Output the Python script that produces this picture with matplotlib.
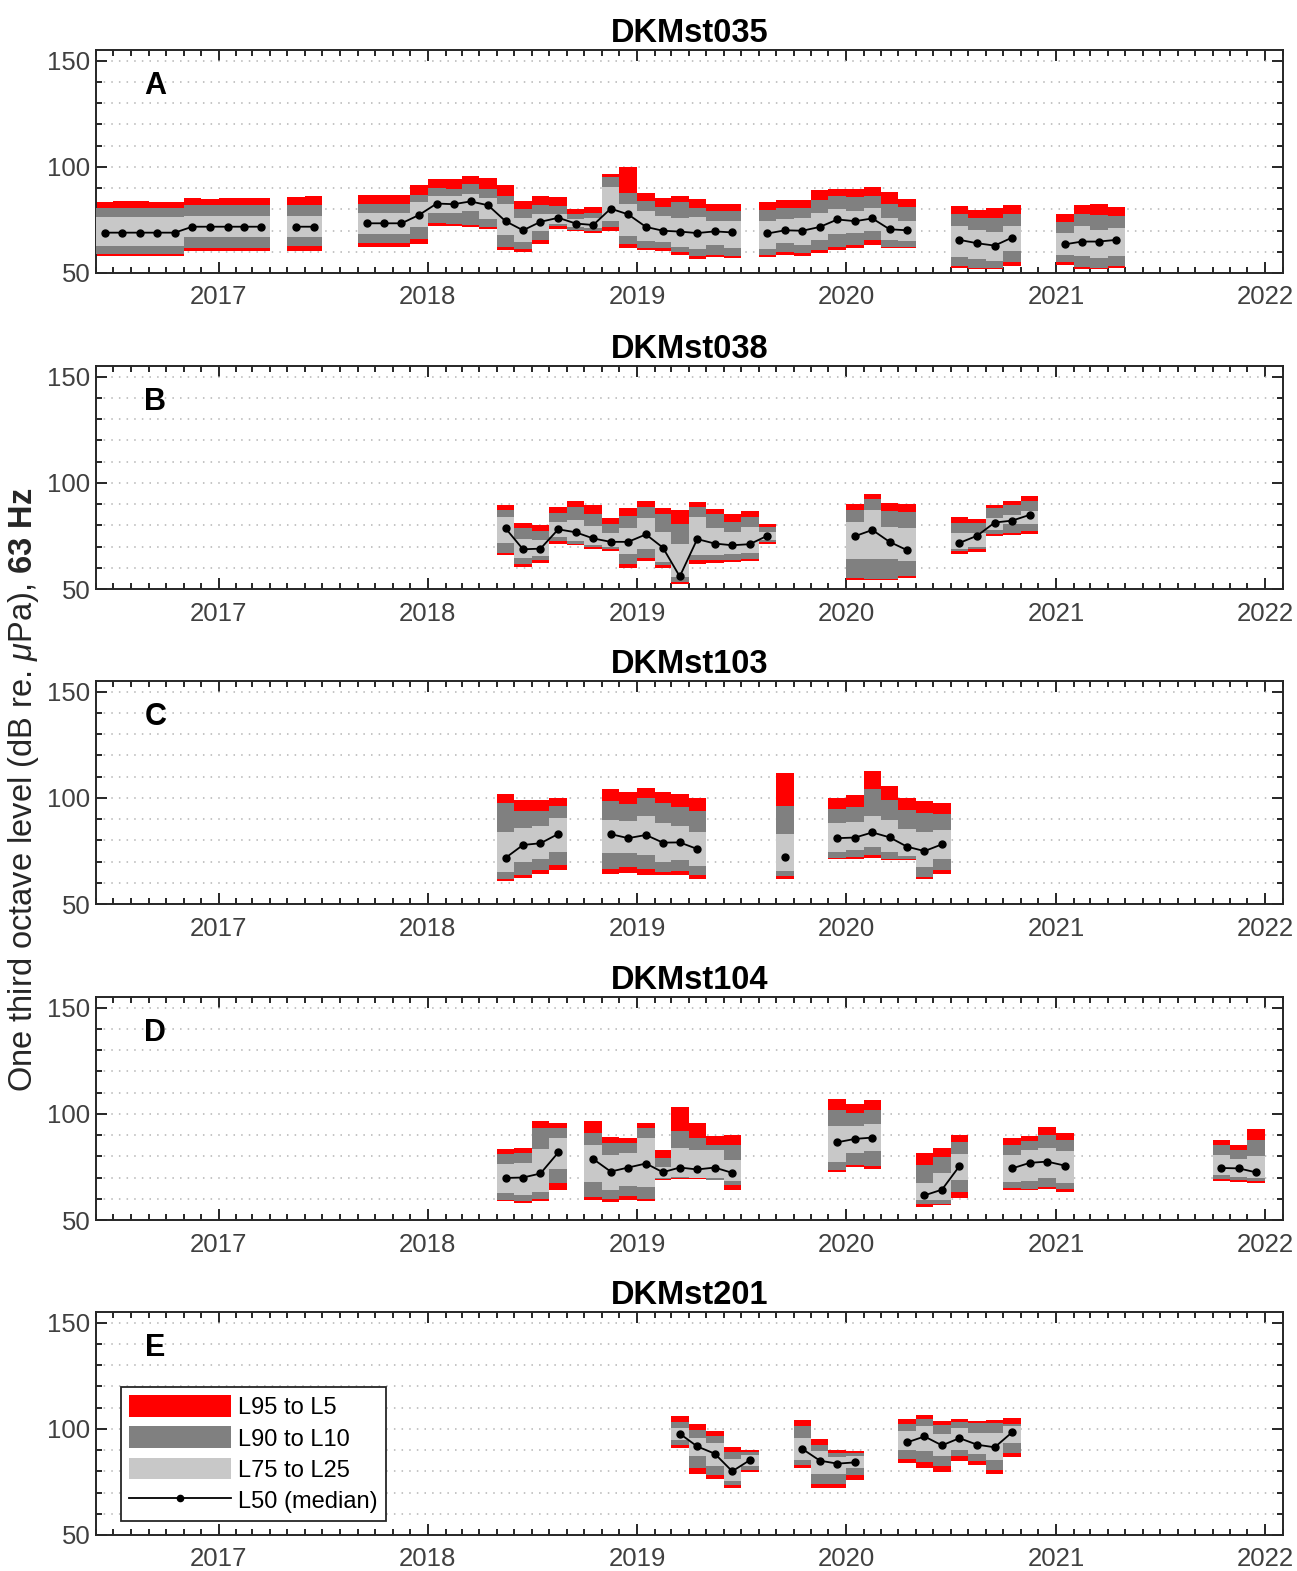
import numpy as np
import pandas as pd
import matplotlib
matplotlib.use("Agg")
import matplotlib.pyplot as plt
import matplotlib.dates as mdates
from matplotlib.patches import Patch
from matplotlib.lines import Line2D
from matplotlib.ticker import MultipleLocator, FixedLocator

plt.rcParams['font.family'] = ['Liberation Sans', 'DejaVu Sans']
plt.rcParams['mathtext.fontset'] = 'custom'
plt.rcParams['mathtext.rm'] = 'Liberation Sans'
plt.rcParams['mathtext.it'] = 'Liberation Sans:italic'
plt.rcParams['mathtext.bf'] = 'Liberation Sans:bold'

# ---------------- data ----------------
stations = ["DKMst035", "DKMst038", "DKMst103", "DKMst104", "DKMst201"]
panel_letters = ["A", "B", "C", "D", "E"]

# --- DKMst035 ---
seg_035 = [("2016-06", "2017-03"), ("2017-05", "2017-06"), ("2017-09", "2019-06"),
           ("2019-08", "2020-04"), ("2020-07", "2020-10"), ("2021-01", "2021-04")]
L5_035 = [83.4, 84.0, 84.0, 83.5, 83.2, 85.3, 85.0, 85.2, 85.4, 85.4,
          86.0, 86.2,
          86.7, 86.7, 86.7, 91.5,
          94.4, 94.4, 95.5, 94.9, 91.2, 83.7, 86.4, 86.0, 80.0, 81.1, 96.5, 99.7,
          87.5, 85.3, 86.4, 84.8, 82.7, 82.7,
          83.2, 84.5, 84.5, 89.1, 89.6, 89.6, 90.4, 88.0, 84.8,
          81.6, 79.5, 80.5, 81.9,
          78.0, 82.2, 82.4, 81.1]
L10_035 = [80.4, 80.4, 80.4, 80.4, 80.4, 82.0, 82.0, 82.0, 82.0, 82.0,
           82.2, 82.2,
           82.4, 82.4, 82.4, 86.7,
           90.0, 89.6, 91.7, 89.6, 86.4, 80.0, 81.9, 81.6, 77.6, 78.4, 95.2, 87.5,
           84.0, 81.1, 83.2, 80.8, 79.2, 79.2,
           79.5, 80.8, 80.8, 84.3, 86.4, 85.9, 86.4, 82.7, 81.1,
           77.6, 75.7, 76.0, 77.6,
           74.1, 77.6, 77.3, 76.8]
L25_035 = [76.6, 76.6, 76.6, 76.6, 76.6, 77.0, 77.0, 77.0, 77.0, 77.0,
           77.0, 77.0,
           78.1, 78.1, 78.1, 83.2,
           86.4, 86.4, 87.2, 85.3, 82.4, 76.0, 77.6, 77.6, 75.2, 76.0, 90.4, 82.4,
           79.2, 76.8, 76.0, 76.3, 74.4, 74.4,
           74.4, 75.2, 76.0, 78.4, 80.0, 79.2, 80.8, 76.0, 74.7,
           72.0, 70.1, 69.3, 72.0,
           68.8, 72.3, 70.4, 71.2]
L50_035 = [69.0, 69.0, 69.0, 69.0, 69.0, 71.8, 71.8, 71.8, 71.8, 71.8,
           71.8, 71.8,
           73.4, 73.4, 73.4, 77.3,
           82.7, 82.4, 83.7, 81.9, 74.4, 70.1, 74.1, 76.0, 73.3, 72.6, 80.3, 77.6,
           71.7, 69.9, 69.5, 68.8, 69.6, 69.1,
           68.6, 70.1, 69.9, 71.7, 75.2, 74.4, 75.7, 70.6, 70.1,
           65.6, 64.0, 62.9, 66.7,
           63.5, 64.8, 64.8, 65.6]
L75_035 = [62.6, 62.6, 62.6, 62.6, 62.6, 67.0, 67.0, 67.0, 67.0, 67.0,
           67.0, 67.0,
           68.3, 68.3, 68.3, 71.5,
           78.1, 78.4, 79.2, 75.2, 68.0, 64.8, 70.0, 73.1, 71.5, 71.2, 74.7, 67.2,
           65.1, 64.8, 62.4, 61.3, 63.2, 61.9,
           61.3, 64.3, 63.2, 65.6, 68.3, 68.8, 69.9, 65.6, 65.1,
           57.6, 56.8, 55.5, 60.3,
           58.7, 57.9, 57.1, 58.1]
L90_035 = [58.9, 58.9, 58.9, 58.9, 58.9, 61.8, 61.8, 61.8, 61.8, 61.8,
           62.6, 62.6,
           64.0, 64.0, 64.0, 66.1,
           73.4, 73.1, 72.5, 71.8, 62.4, 61.3, 65.6, 72.0, 70.4, 69.9, 71.5, 63.5,
           61.9, 61.9, 59.7, 57.9, 58.7, 57.9,
           58.7, 60.0, 59.2, 60.8, 62.4, 63.2, 65.6, 62.4, 62.4,
           53.1, 52.3, 52.3, 55.2,
           55.2, 52.8, 52.3, 53.3]
L95_035 = [57.8, 57.8, 57.8, 57.8, 57.8, 60.2, 60.2, 60.2, 60.2, 60.2,
           60.2, 60.2,
           62.4, 62.4, 62.4, 63.5,
           72.3, 72.0, 71.5, 70.7, 60.8, 60.0, 63.5, 70.9, 69.6, 68.8, 70.0, 61.6,
           60.8, 60.3, 58.4, 56.8, 57.6, 57.1,
           57.6, 58.7, 57.9, 59.2, 60.8, 61.6, 63.2, 61.9, 61.9,
           52.3, 51.7, 51.7, 53.3,
           53.6, 52.0, 51.7, 52.3]

# --- DKMst038 ---
seg_038 = [("2018-05", "2019-08"), ("2020-01", "2020-04"), ("2020-07", "2020-11")]
L5_038 = [89.4, 81.3, 80.2, 88.7, 91.3, 89.7, 83.3, 88.1, 91.3, 88.1, 87.3, 90.8, 87.6, 85.2, 86.8, 80.6,
          90.0, 94.8, 90.5, 90.0,
          83.7, 83.0, 89.7, 91.6, 93.7]
L10_038 = [87.3, 78.6, 77.3, 85.7, 88.4, 85.4, 80.5, 84.6, 88.4, 85.4, 80.5, 88.4, 85.2, 81.7, 84.1, 79.4,
           87.3, 92.5, 86.8, 86.2,
           81.0, 81.0, 88.1, 89.4, 91.6]
L25_038 = [84.1, 73.5, 73.0, 81.7, 82.5, 79.8, 76.2, 78.9, 83.3, 77.0, 71.4, 84.1, 78.9, 76.7, 79.4, 76.7,
           81.7, 87.3, 79.4, 78.9,
           76.2, 76.2, 83.3, 84.9, 86.5]
L50_038 = [78.6, 68.7, 69.0, 78.1, 76.7, 73.8, 72.2, 72.2, 75.7, 69.5, 55.9, 73.5, 71.4, 70.6, 71.1, 75.1,
           74.9, 77.8, 72.2, 68.3,
           71.7, 75.1, 81.3, 82.2, 84.9]
L75_038 = [71.7, 64.6, 65.6, 74.6, 72.7, 70.6, 69.8, 66.7, 69.0, 62.7, 55.6, 66.2, 66.2, 66.7, 67.0, 73.0,
           64.3, 64.0, 64.3, 63.0,
           69.0, 69.8, 77.8, 80.5, 80.5]
L90_038 = [67.1, 61.9, 63.5, 72.5, 71.4, 69.8, 69.0, 61.9, 64.6, 61.4, 53.2, 63.5, 63.8, 63.8, 64.3, 71.9,
           55.1, 54.8, 54.8, 56.3,
           67.9, 68.7, 75.7, 76.2, 77.3]
L95_038 = [65.9, 60.3, 62.2, 71.3, 70.6, 69.0, 67.9, 59.8, 63.0, 59.8, 52.4, 61.9, 62.4, 62.7, 63.0, 71.0,
           54.3, 54.3, 54.3, 55.2,
           66.7, 67.5, 74.9, 75.4, 75.7]

# --- DKMst103 ---
seg_103 = [("2018-05", "2018-08"), ("2018-11", "2019-04"), ("2019-09", "2019-09"), ("2019-12", "2020-06")]
L5_103 = [101.6, 98.9, 98.9, 99.7,
          104.0, 102.9, 104.4, 102.9, 101.6, 99.7,
          111.9,
          99.7, 101.1, 112.4, 105.6, 100.0, 98.4, 97.6]
L10_103 = [97.6, 93.7, 94.0, 96.0,
           98.4, 97.1, 99.7, 97.6, 95.6, 93.7,
           96.0,
           94.9, 95.6, 104.0, 99.2, 94.1, 92.9, 92.5]
L25_103 = [84.1, 85.7, 86.5, 90.5,
           89.7, 88.9, 91.3, 88.1, 86.5, 83.7,
           82.9,
           88.1, 88.6, 91.6, 89.7, 85.2, 83.7, 84.9]
L50_103 = [71.7, 77.8, 78.6, 83.0,
           82.9, 81.0, 82.5, 78.9, 79.0, 75.9,
           72.2,
           81.0, 81.3, 83.7, 81.4, 77.0, 74.9, 78.1]
L75_103 = [65.1, 69.8, 71.4, 74.6,
           73.8, 73.8, 73.0, 69.8, 70.6, 67.8,
           65.4,
           74.6, 75.4, 77.0, 74.6, 72.7, 67.5, 71.1]
L90_103 = [61.9, 63.8, 65.9, 68.3,
           66.7, 67.5, 66.7, 65.1, 65.4, 63.5,
           63.2,
           71.7, 72.2, 73.0, 71.4, 71.1, 62.7, 65.9]
L95_103 = [60.6, 62.2, 64.3, 65.9,
           64.3, 64.8, 63.8, 63.5, 63.5, 61.9,
           61.9,
           71.1, 71.4, 71.7, 70.6, 70.6, 61.6, 64.3]

# --- DKMst104 ---
seg_104 = [("2018-05", "2018-08"), ("2018-10", "2019-06"), ("2019-12", "2020-02"),
           ("2020-05", "2020-07"), ("2020-10", "2021-01"), ("2021-10", "2021-12")]
L5_104 = [83.3, 83.7, 96.8, 95.6,
          96.7, 88.9, 88.5, 95.6, 82.9, 103.0, 95.6, 89.7, 90.0,
          107.0, 104.7, 106.6,
          81.4, 83.7, 90.0,
          88.4, 89.5, 93.9, 91.1,
          87.9, 85.2, 92.7]
L10_104 = [81.0, 81.4, 93.2, 93.2,
           90.8, 86.1, 86.1, 93.2, 79.0, 92.1, 88.5, 85.3, 85.3,
           101.6, 100.6, 101.9,
           75.8, 79.8, 86.9,
           85.2, 87.2, 90.0, 87.9,
           85.2, 82.8, 87.9]
L25_104 = [76.6, 76.9, 83.3, 88.5,
           85.3, 80.6, 81.4, 88.5, 75.0, 83.7, 82.9, 82.9, 78.2,
           94.3, 94.3, 95.3,
           67.5, 72.2, 81.0,
           80.4, 82.8, 84.1, 82.3,
           80.4, 78.8, 80.1]
L50_104 = [69.8, 70.0, 71.9, 81.8,
           78.7, 72.8, 74.7, 76.6, 72.5, 74.7, 73.8, 74.7, 72.2,
           86.6, 88.2, 88.8,
           61.6, 64.3, 75.4,
           74.3, 76.9, 77.5, 75.6,
           74.5, 74.3, 72.4]
L75_104 = [62.7, 61.6, 63.2, 73.9,
           67.9, 64.0, 66.0, 65.6, 70.0, 70.3, 70.0, 70.0, 68.4,
           77.4, 81.4, 82.5,
           59.2, 59.6, 68.7,
           67.9, 68.4, 69.7, 67.6,
           71.3, 70.3, 70.0]
L90_104 = [59.6, 58.8, 60.0, 67.5,
           60.8, 60.0, 61.1, 60.0, 69.5, 69.8, 69.8, 69.0, 66.4,
           73.5, 75.8, 75.4,
           57.7, 57.7, 63.2,
           64.9, 64.8, 65.6, 64.4,
           69.5, 68.7, 68.4]
L95_104 = [58.8, 58.1, 58.9, 64.3,
           59.2, 58.5, 59.6, 58.8, 68.7, 69.5, 69.5, 68.7, 64.0,
           72.7, 75.0, 74.2,
           56.1, 56.9, 60.5,
           64.0, 64.0, 64.4, 63.3,
           68.4, 67.9, 67.5]

# --- DKMst201 ---
seg_201 = [("2019-03", "2019-07"), ("2019-10", "2020-01"), ("2020-04", "2020-10")]
L5_201 = [105.8, 102.2, 98.8, 91.4, 90.2,
          104.2, 95.2, 89.8, 89.4,
          104.7, 106.3, 103.8, 104.7, 103.9, 104.2, 105.0]
L10_201 = [103.4, 99.5, 96.4, 89.1, 89.1,
           101.1, 92.5, 88.6, 88.6,
           102.2, 104.7, 101.6, 103.1, 102.7, 102.7, 102.2]
L25_201 = [100.3, 95.9, 93.3, 85.8, 87.5,
           95.9, 89.4, 86.6, 87.0,
           99.1, 101.1, 97.5, 100.6, 98.0, 98.0, 101.1]
L50_201 = [97.7, 91.7, 88.3, 80.0, 85.2,
           90.5, 85.0, 83.6, 84.2,
           93.6, 96.4, 92.2, 95.6, 92.5, 91.3, 98.4]
L75_201 = [94.8, 87.0, 82.3, 75.6, 82.3,
           85.5, 78.8, 78.8, 81.6,
           90.2, 89.4, 87.0, 90.2, 88.1, 85.5, 93.3]
L90_201 = [92.5, 81.6, 78.1, 73.4, 80.8,
           82.8, 74.1, 74.1, 78.1,
           85.9, 84.4, 82.3, 87.0, 84.7, 80.8, 88.6]
L95_201 = [90.9, 78.9, 76.6, 71.9, 79.5,
           81.6, 72.2, 72.2, 76.1,
           83.9, 81.6, 79.7, 85.0, 82.8, 78.8, 86.6]

panels = [
    (seg_035, L5_035, L10_035, L25_035, L50_035, L75_035, L90_035, L95_035),
    (seg_038, L5_038, L10_038, L25_038, L50_038, L75_038, L90_038, L95_038),
    (seg_103, L5_103, L10_103, L25_103, L50_103, L75_103, L90_103, L95_103),
    (seg_104, L5_104, L10_104, L25_104, L50_104, L75_104, L90_104, L95_104),
    (seg_201, L5_201, L10_201, L25_201, L50_201, L75_201, L90_201, L95_201),
]

legend_labels = ["L95 to L5", "L90 to L10", "L75 to L25", "L50 (median)"]
ylabel_text = r"One third octave level (dB re. $\mu$Pa), $\mathbf{63\ Hz}$"

# ---------------- style ----------------
C_RED = "#ff0000"
C_DARK = "#808080"
C_LIGHT = "#c8c8c8"
C_SPINE = "#262626"
C_TICKLBL = "#404040"

W, H = 1297, 1571
fig = plt.figure(figsize=(W / 100, H / 100), dpi=100)

ax_left, ax_right = 96, 1283
ax_h = 223
bottoms = [273, 589, 904, 1220, 1535]

x0 = pd.Timestamp("2016-06-01")
x1 = pd.Timestamp("2022-02-01")


def month_list(segs):
    out = []
    for a, b in segs:
        out.extend(pd.period_range(a, b, freq="M"))
    return out


for i, (segs, L5, L10, L25, L50, L75, L90, L95) in enumerate(panels):
    bpx = bottoms[i]
    ax = fig.add_axes([ax_left / W, 1 - bpx / H, (ax_right - ax_left) / W, ax_h / H])
    months = month_list(segs)
    starts = [m.start_time for m in months]
    ends = [(m + 1).start_time for m in months]
    xs = mdates.date2num(starts)
    ws = mdates.date2num(ends) - xs
    L5a, L10a, L25a, L50a = map(np.array, (L5, L10, L25, L50))
    L75a, L90a, L95a = map(np.array, (L75, L90, L95))

    ax.bar(xs, L5a - L95a, bottom=L95a, width=ws, align="edge", color=C_RED, linewidth=0, zorder=2)
    ax.bar(xs, L10a - L90a, bottom=L90a, width=ws, align="edge", color=C_DARK, linewidth=0, zorder=3)
    ax.bar(xs, L25a - L75a, bottom=L75a, width=ws, align="edge", color=C_LIGHT, linewidth=0, zorder=4)

    # median line, broken across missing months
    ser = pd.Series(L50a, index=pd.PeriodIndex(months, freq="M"))
    full = pd.period_range(ser.index.min(), ser.index.max(), freq="M")
    ser = ser.reindex(full)
    mids = [p.start_time + ((p + 1).start_time - p.start_time) / 2 for p in full]
    ax.plot(mdates.date2num(mids), ser.values, color="black", lw=1.3, marker="o",
            markersize=5, zorder=5)

    ax.set_xlim(x0, x1)
    ax.set_ylim(50, 155)
    ax.yaxis.set_major_locator(FixedLocator([50, 100, 150]))
    ax.yaxis.set_minor_locator(MultipleLocator(10))
    ax.xaxis.set_major_locator(mdates.YearLocator())
    ax.xaxis.set_minor_locator(mdates.MonthLocator())
    ax.xaxis.set_major_formatter(mdates.DateFormatter("%Y"))

    ax.set_axisbelow(True)
    ax.grid(which="both", axis="y", linestyle=(0, (1, 4)), color="#b4b4b4", lw=1.1, zorder=0)
    ax.grid(which="both", axis="x", visible=False)

    ax.tick_params(which="both", direction="in", top=True, right=True,
                   colors=C_SPINE, labelcolor=C_TICKLBL, labelsize=18.5, width=1.4)
    ax.tick_params(which="major", length=8)
    ax.tick_params(which="minor", length=4.5)
    ax.tick_params(axis="x", which="major", pad=9)
    ax.tick_params(axis="y", which="major", pad=4)
    for sp in ax.spines.values():
        sp.set_color(C_SPINE)
        sp.set_linewidth(1.4)

    ax.set_title(stations[i], fontsize=23.5, fontweight="bold", pad=6)
    ax.text(0.05, 0.84, panel_letters[i], transform=ax.transAxes, fontsize=22,
            fontweight="bold", ha="center", va="center", zorder=6)

    if i == 4:
        handles = [Patch(facecolor=C_RED, edgecolor="none"),
                   Patch(facecolor=C_DARK, edgecolor="none"),
                   Patch(facecolor=C_LIGHT, edgecolor="none"),
                   Line2D([], [], color="black", lw=1.3, marker="o", markersize=4.5)]
        leg = ax.legend(handles, legend_labels, loc="lower left",
                        bbox_to_anchor=(0.021, 0.063), borderaxespad=0,
                        fontsize=17, frameon=True, fancybox=False, framealpha=1,
                        edgecolor=C_SPINE, handlelength=4.3, handleheight=1.05,
                        labelspacing=0.3, handletextpad=0.3, borderpad=0.35,
                        numpoints=1)
        leg.get_frame().set_linewidth(1.3)
        leg.set_zorder(10)

fig.text(24 / W, 1 - 790 / H, ylabel_text, rotation=90, fontsize=23.5,
         ha="center", va="center", color="#262626")

fig.savefig("out.png", dpi=100)
